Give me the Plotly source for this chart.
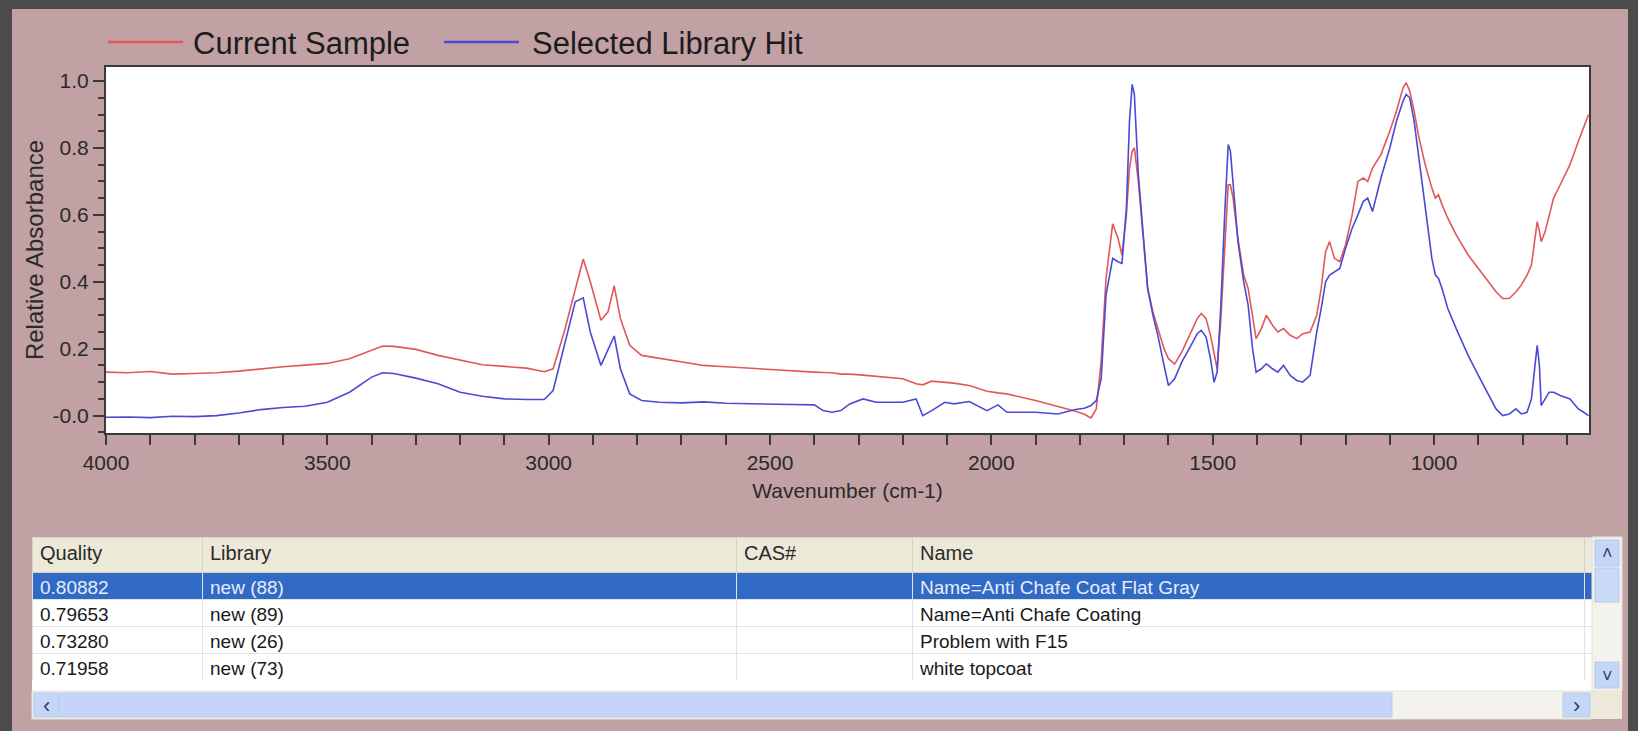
import plotly.graph_objects as go

# ---------------- data ----------------
wavenumber = [4000, 3950, 3900, 3850, 3800, 3750, 3700, 3650, 3600, 3550, 3500, 3450, 3400, 3375, 3350,
              3300, 3250, 3200, 3150, 3100, 3050, 3010, 2990, 2965, 2940, 2922, 2906, 2882, 2866, 2852,
              2838, 2817, 2790, 2750, 2700, 2650, 2600, 2550, 2500, 2450, 2400, 2380, 2360, 2340, 2320,
              2290, 2260, 2200, 2170, 2155, 2135, 2105, 2085, 2050, 2010, 1985, 1965, 1900, 1850, 1810,
              1790, 1775, 1763, 1752, 1741, 1726, 1714, 1705, 1695, 1688, 1682, 1677, 1668, 1658, 1647,
              1635, 1624, 1610, 1600, 1586, 1570, 1549, 1535, 1526, 1515, 1505, 1497, 1490, 1482, 1473,
              1465, 1460, 1454, 1443, 1430, 1420, 1410, 1402, 1390, 1379, 1365, 1353, 1340, 1325, 1310,
              1297, 1280, 1265, 1255, 1245, 1236, 1225, 1213, 1200, 1185, 1172, 1160, 1150, 1139, 1120,
              1100, 1085, 1070, 1063, 1055, 1045, 1034, 1020, 1005, 997, 990, 982, 969, 950, 923,
              900, 877, 860, 845, 830, 815, 803, 790, 780, 772, 767, 762, 758, 749, 740,
              730, 715, 693, 674, 662, 651]

current_sample = [0.130, 0.128, 0.132, 0.124, 0.126, 0.128, 0.133, 0.140, 0.146, 0.151, 0.156, 0.170, 0.195, 0.208, 0.207,
                  0.198, 0.180, 0.165, 0.152, 0.147, 0.142, 0.131, 0.140, 0.250, 0.380, 0.468, 0.400, 0.285, 0.310, 0.388,
                  0.290, 0.210, 0.180, 0.172, 0.160, 0.150, 0.146, 0.142, 0.136, 0.132, 0.130, 0.129, 0.128, 0.124, 0.124,
                  0.121, 0.118, 0.110, 0.095, 0.092, 0.103, 0.100, 0.097, 0.090, 0.073, 0.068, 0.065, 0.045, 0.028, 0.013,
                  0.004, -0.007, 0.020, 0.163, 0.410, 0.573, 0.530, 0.480, 0.600, 0.740, 0.790, 0.800, 0.700, 0.550, 0.380,
                  0.310, 0.260, 0.200, 0.170, 0.154, 0.190, 0.250, 0.290, 0.305, 0.290, 0.240, 0.180, 0.140, 0.280, 0.500,
                  0.690, 0.690, 0.650, 0.530, 0.420, 0.380, 0.300, 0.230, 0.260, 0.300, 0.270, 0.250, 0.260, 0.240, 0.230,
                  0.245, 0.250, 0.300, 0.380, 0.490, 0.520, 0.470, 0.460, 0.510, 0.600, 0.700, 0.710, 0.700, 0.740, 0.780,
                  0.850, 0.910, 0.980, 0.995, 0.970, 0.910, 0.830, 0.750, 0.680, 0.650, 0.660, 0.630, 0.590, 0.540, 0.480,
                  0.440, 0.400, 0.370, 0.350, 0.350, 0.370, 0.390, 0.420, 0.450, 0.530, 0.580, 0.550, 0.520, 0.550, 0.600,
                  0.650, 0.690, 0.750, 0.820, 0.860, 0.900]

library_hit = [-0.005, -0.004, -0.006, -0.002, -0.003, 0.000, 0.008, 0.018, 0.024, 0.028, 0.040, 0.070, 0.115, 0.128, 0.126,
               0.112, 0.095, 0.070, 0.058, 0.050, 0.048, 0.048, 0.075, 0.210, 0.340, 0.352, 0.250, 0.150, 0.200, 0.238,
               0.140, 0.065, 0.045, 0.040, 0.038, 0.041, 0.037, 0.035, 0.035, 0.033, 0.032, 0.015, 0.010, 0.015, 0.035,
               0.050, 0.040, 0.040, 0.050, 0.000, 0.015, 0.040, 0.035, 0.042, 0.015, 0.032, 0.010, 0.010, 0.005, 0.018,
               0.022, 0.030, 0.045, 0.110, 0.360, 0.470, 0.460, 0.455, 0.620, 0.880, 0.990, 0.960, 0.720, 0.550, 0.380,
               0.300, 0.240, 0.150, 0.090, 0.110, 0.160, 0.210, 0.245, 0.255, 0.235, 0.170, 0.100, 0.130, 0.320, 0.600,
               0.810, 0.790, 0.700, 0.520, 0.400, 0.330, 0.200, 0.130, 0.140, 0.155, 0.140, 0.130, 0.150, 0.120, 0.105,
               0.100, 0.120, 0.250, 0.320, 0.400, 0.420, 0.430, 0.440, 0.500, 0.560, 0.600, 0.640, 0.650, 0.610, 0.710,
               0.800, 0.880, 0.940, 0.960, 0.950, 0.880, 0.770, 0.620, 0.470, 0.420, 0.410, 0.380, 0.320, 0.260, 0.180,
               0.120, 0.060, 0.020, 0.000, 0.005, 0.020, 0.005, 0.010, 0.050, 0.150, 0.210, 0.150, 0.030, 0.050, 0.070,
               0.070, 0.060, 0.050, 0.020, 0.010, 0.000]

x_tick_values = [4000, 3500, 3000, 2500, 2000, 1500, 1000]
y_tick_values = [0.0, 0.2, 0.4, 0.6, 0.8, 1.0]
y_tick_labels = ["-0.0", "0.2", "0.4", "0.6", "0.8", "1.0"]

series_names = ["Current Sample", "Selected Library Hit"]

table_headers = ["Quality", "Library", "CAS#", "Name", ""]
hit_quality = ["0.80882", "0.79653", "0.73280", "0.71958"]
hit_library = ["new (88)", "new (89)", "new (26)", "new (73)"]
hit_cas = ["", "", "", ""]
hit_name = ["Name=Anti Chafe Coat Flat Gray", "Name=Anti Chafe Coating", "Problem with F15", "white topcoat"]

# ---------------- layout helpers ----------------
W, H = 1638, 731
def px(x):
    return x / W
def py(y):
    return 1 - y / H

FONT = "Liberation Sans, Arial, Helvetica, sans-serif"
RED = "#e0585a"
BLUE = "#4a4ad4"
BG = "#c1a1a3"
AX = "#3a3a3a"

fig = go.Figure()
fig.add_trace(go.Scatter(x=wavenumber, y=current_sample, mode="lines", name=series_names[0],
                         line=dict(color=RED, width=1.6)))
fig.add_trace(go.Scatter(x=wavenumber, y=library_hit, mode="lines", name=series_names[1],
                         line=dict(color=BLUE, width=1.6)))

sel_fill = "#316ac5"
row_fill = [sel_fill] + ["#ffffff"] * (len(hit_quality) - 1)
row_font = ["#e6edfb"] + ["#1a1a1a"] * (len(hit_quality) - 1)
fig.add_trace(go.Table(
    domain=dict(x=[px(32), px(1592)], y=[py(691), py(537)]),
    columnwidth=[170, 534, 176, 672, 8],
    header=dict(values=table_headers, fill_color="#ece9d8", line_color="#d6d2c2",
                font=dict(family=FONT, size=20, color="#2a2a2a"), align="left", height=35),
    cells=dict(values=[hit_quality, hit_library, hit_cas, hit_name, [""] * len(hit_quality)],
               fill_color=[row_fill] * 5, line_color="#e3e3e3",
               font=dict(family=FONT, size=19, color=[row_font] * 5), align="left", height=27),
))

shapes = []
# outer dark window frame
shapes.append(dict(type="rect", xref="paper", yref="paper", x0=0, x1=1, y0=py(9), y1=1,
                   fillcolor="#4b4b4b", line_width=0, layer="below"))
shapes.append(dict(type="rect", xref="paper", yref="paper", x0=0, x1=px(12), y0=0, y1=1,
                   fillcolor="#4b4b4b", line_width=0, layer="below"))
shapes.append(dict(type="rect", xref="paper", yref="paper", x0=px(1628), x1=1, y0=0, y1=1,
                   fillcolor="#4b4b4b", line_width=0, layer="below"))
# table panel: white strip below rows (partially visible next row)
shapes.append(dict(type="rect", xref="paper", yref="paper", x0=px(32), x1=px(1592), y0=py(691), y1=py(680),
                   fillcolor="#ffffff", line_width=0))
# vertical scrollbar
shapes.append(dict(type="rect", xref="paper", yref="paper", x0=px(1592), x1=px(1622), y0=py(691), y1=py(537),
                   fillcolor="#f3f2ec", line=dict(color="#e4e2d8", width=1)))
shapes.append(dict(type="rect", xref="paper", yref="paper", x0=px(1595), x1=px(1619), y0=py(566), y1=py(540),
                   fillcolor="#c6d6f6", line=dict(color="#b4c8ee", width=1)))
shapes.append(dict(type="rect", xref="paper", yref="paper", x0=px(1595), x1=px(1619), y0=py(602), y1=py(568),
                   fillcolor="#c9d9f7", line=dict(color="#b4c8ee", width=1)))
shapes.append(dict(type="rect", xref="paper", yref="paper", x0=px(1595), x1=px(1619), y0=py(688), y1=py(662),
                   fillcolor="#c6d6f6", line=dict(color="#b4c8ee", width=1)))
# horizontal scrollbar
shapes.append(dict(type="rect", xref="paper", yref="paper", x0=px(32), x1=px(1592), y0=py(719), y1=py(691),
                   fillcolor="#f3f2ec", line=dict(color="#e4e2d8", width=1)))
shapes.append(dict(type="rect", xref="paper", yref="paper", x0=px(34), x1=px(58), y0=py(717), y1=py(693),
                   fillcolor="#c6d6f6", line=dict(color="#b4c8ee", width=1)))
shapes.append(dict(type="rect", xref="paper", yref="paper", x0=px(59), x1=px(1392), y0=py(717), y1=py(693),
                   fillcolor="#c4d5f7", line=dict(color="#b4c8ee", width=1)))
shapes.append(dict(type="rect", xref="paper", yref="paper", x0=px(1563), x1=px(1590), y0=py(717), y1=py(693),
                   fillcolor="#c6d6f6", line=dict(color="#b4c8ee", width=1)))
shapes.append(dict(type="rect", xref="paper", yref="paper", x0=px(1592), x1=px(1622), y0=py(719), y1=py(691),
                   fillcolor="#ece9d8", line_width=0))
# legend line samples
shapes.append(dict(type="line", xref="paper", yref="paper", x0=px(108), x1=px(183), y0=py(42), y1=py(42),
                   line=dict(color=RED, width=2.5)))
shapes.append(dict(type="line", xref="paper", yref="paper", x0=px(444), x1=px(519), y0=py(42), y1=py(42),
                   line=dict(color=BLUE, width=2.5)))

annotations = [
    dict(text=series_names[0], xref="paper", yref="paper", x=px(191), y=py(43), xanchor="left", yanchor="middle",
         showarrow=False, font=dict(family=FONT, size=31, color="#1c1c1c")),
    dict(text=series_names[1], xref="paper", yref="paper", x=px(530), y=py(43), xanchor="left", yanchor="middle",
         showarrow=False, font=dict(family=FONT, size=31, color="#1c1c1c")),
    dict(text="&#8249;", xref="paper", yref="paper", x=px(46), y=py(705), xanchor="center", yanchor="middle",
         showarrow=False, font=dict(family=FONT, size=22, color="#2b3f73")),
    dict(text="&#8250;", xref="paper", yref="paper", x=px(1576), y=py(705), xanchor="center", yanchor="middle",
         showarrow=False, font=dict(family=FONT, size=22, color="#2b3f73")),
    dict(text="&#708;", xref="paper", yref="paper", x=px(1607), y=py(553), xanchor="center", yanchor="middle",
         showarrow=False, font=dict(family=FONT, size=18, color="#2b3f73")),
    dict(text="&#709;", xref="paper", yref="paper", x=px(1607), y=py(676), xanchor="center", yanchor="middle",
         showarrow=False, font=dict(family=FONT, size=18, color="#2b3f73")),
]

fig.update_layout(
    width=W, height=H, autosize=False,
    margin=dict(l=0, r=0, t=0, b=0, pad=0, autoexpand=False),
    paper_bgcolor=BG, plot_bgcolor="#ffffff",
    showlegend=False,
    shapes=shapes, annotations=annotations,
    font=dict(family=FONT, color="#2a2a2a"),
    xaxis=dict(domain=[px(106), px(1589)], range=[4000, 650], tickvals=x_tick_values, automargin=False,
               ticks="outside", ticklen=10, tickwidth=2, tickcolor=AX,
               minor=dict(dtick=100, tick0=0, ticks="outside", ticklen=10, tickwidth=2, tickcolor=AX),
               showgrid=False, zeroline=False, showline=True, mirror=True, linecolor=AX, linewidth=2,
               tickfont=dict(family=FONT, size=21, color="#2a2a2a"),
               title=dict(text="Wavenumber (cm-1)", font=dict(family=FONT, size=21, color="#2a2a2a"), standoff=10)),
    yaxis=dict(domain=[py(433), py(67)], range=[-0.052, 1.042], tickvals=y_tick_values, ticktext=y_tick_labels,
               automargin=False,
               ticks="outside", ticklen=11, tickwidth=2, tickcolor=AX,
               minor=dict(dtick=0.05, tick0=0, ticks="outside", ticklen=6, tickwidth=2, tickcolor=AX),
               showgrid=False, zeroline=False, showline=True, mirror=True, linecolor=AX, linewidth=2,
               tickfont=dict(family=FONT, size=21, color="#2a2a2a"),
               title=dict(text="Relative Absorbance", font=dict(family=FONT, size=24, color="#2a2a2a"), standoff=2)),
)

fig.write_html("out.html", config={"displayModeBar": False},
               post_script="document.body.style.margin='0';document.body.style.overflow='hidden';")
